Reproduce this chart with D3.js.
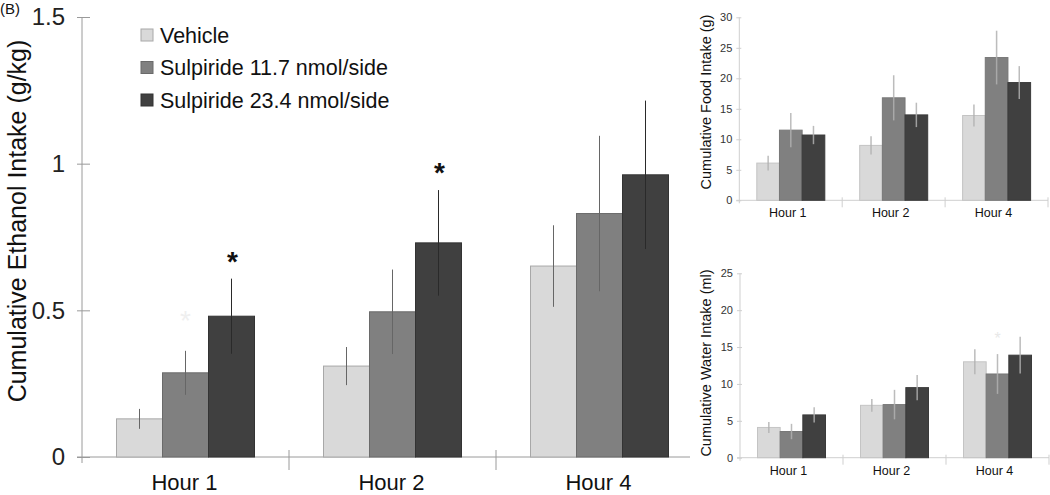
<!DOCTYPE html>
<html><head><meta charset="utf-8">
<script src="https://cdn.jsdelivr.net/npm/d3@7"></script>
<style>body{margin:0;background:#fff}svg{display:block;font-family:"Liberation Sans",Arial,sans-serif}</style>
</head><body>
<svg id="c" width="1050" height="495"></svg>
<script>
// ---- data ----
const categories = ["Hour 1", "Hour 2", "Hour 4"];
const seriesNames = ["Vehicle", "Sulpiride 11.7 nmol/side", "Sulpiride 23.4 nmol/side"];
const seriesColors = ["#d9d9d9", "#808080", "#404040"];
const seriesStroke = ["#a8a8a8", "#6a6a6a", "#333333"];

// Ethanol (g/kg): [series][category]
const ethanolMean = [[0.13, 0.31, 0.651], [0.287, 0.495, 0.83], [0.48, 0.73, 0.962]];
const ethanolErr  = [[0.034, 0.065, 0.139], [0.075, 0.144, 0.265], [0.128, 0.18, 0.253]];
const ethanolSig  = [[false, false, false], [false, false, false], [true, true, false]];
const ethanolTicks = [0, 0.5, 1, 1.5];
const ethanolTickLabels = ["0", "0.5", "1", "1.5"];

// Food (g)
const foodMean = [[6.1, 9.0, 13.9], [11.5, 16.8, 23.4], [10.7, 14.0, 19.3]];
const foodErr  = [[1.2, 1.5, 1.8], [2.8, 3.7, 4.4], [1.5, 2.0, 2.7]];
const foodTicks = [0, 5, 10, 15, 20, 25, 30];

// Water (ml)
const waterMean = [[4.1, 7.1, 13.0], [3.55, 7.2, 11.35], [5.8, 9.5, 13.9]];
const waterErr  = [[0.75, 0.86, 1.7], [1.04, 2.0, 2.7], [1.04, 1.7, 2.5]];
const waterTicks = [0, 5, 10, 15, 20, 25];

const svg = d3.select("#c");

// ---------- main panel ----------
(function(){
  const y = d3.scaleLinear().domain([0, 1.5]).range([457, 17]);
  const x = d3.scaleBand().domain(categories).range([82, 703]);
  const xs = d3.scaleBand().domain(d3.range(3)).range([34.5, 172.5]);
  const g = svg.append("g");

  g.append("line").attr("x1", 82).attr("x2", 82).attr("y1", y(1.5)).attr("y2", y(0) + 6)
    .attr("stroke", "#9a9a9a").attr("stroke-width", 1);
  g.append("line").attr("x1", 77).attr("x2", 690).attr("y1", y(0)).attr("y2", y(0))
    .attr("stroke", "#9a9a9a").attr("stroke-width", 1);

  const yAxis = d3.axisLeft(y).tickValues(ethanolTicks)
    .tickFormat((d, i) => ethanolTickLabels[i]).tickSize(5).tickPadding(12);
  const ya = g.append("g").attr("transform", "translate(82,0)").call(yAxis);
  ya.select(".domain").remove();
  ya.selectAll(".tick line").attr("stroke", "#9a9a9a").attr("x2", -5).attr("x1", 8);
  ya.selectAll(".tick text").attr("font-size", 24).attr("fill", "#222")
    .attr("font-family", "Liberation Sans, Arial, sans-serif");

  categories.slice(1).forEach(c => {
    g.append("line").attr("x1", x(c)).attr("x2", x(c)).attr("y1", y(0) - 7).attr("y2", y(0) + 13)
      .attr("stroke", "#9a9a9a");
  });
  categories.forEach(c => {
    g.append("text").attr("x", x(c) + x.bandwidth() / 2 - 1).attr("y", 490)
      .attr("text-anchor", "middle").attr("font-size", 22).attr("fill", "#111").text(c);
  });

  seriesNames.forEach((s, si) => {
    categories.forEach((c, ci) => {
      const v = ethanolMean[si][ci];
      g.append("rect").attr("x", x(c) + xs(si)).attr("width", xs.bandwidth())
        .attr("y", y(v)).attr("height", y(0) - y(v))
        .attr("fill", seriesColors[si]).attr("stroke", seriesStroke[si]).attr("stroke-width", 1);
    });
  });
  seriesNames.forEach((s, si) => {
    categories.forEach((c, ci) => {
      const v = ethanolMean[si][ci], e = ethanolErr[si][ci];
      const cx = x(c) + xs(si) + xs.bandwidth() / 2;
      g.append("line").attr("x1", cx).attr("x2", cx).attr("y1", y(v + e)).attr("y2", y(v - e))
        .attr("stroke", si === 2 ? "#2a2a2a" : "#666").attr("stroke-width", 1);
      if (ethanolSig[si][ci]) {
        g.append("text").attr("x", cx + 1).attr("y", y(v + e) - 24 + 16)
          .attr("text-anchor", "middle").attr("font-size", 28).attr("font-weight", "bold")
          .attr("fill", "#111").text("*");
      }
    });
  });
  g.append("text").attr("x", x("Hour 1") + xs(1) + xs.bandwidth() / 2).attr("y", 330)
    .attr("text-anchor", "middle").attr("font-size", 28).attr("fill", "#efefef").text("*");

  g.append("text").attr("transform", "translate(26,221) rotate(-90)")
    .attr("text-anchor", "middle").attr("font-size", 25).attr("fill", "#111")
    .text("Cumulative Ethanol Intake (g/kg)");

  const lg = g.append("g");
  seriesNames.forEach((s, si) => {
    const cy = 35 + si * 32.5;
    lg.append("rect").attr("x", 141).attr("y", cy - 6).attr("width", 12).attr("height", 12)
      .attr("fill", seriesColors[si]).attr("stroke", seriesStroke[si]);
    lg.append("text").attr("x", 160).attr("y", cy + 7.5).attr("font-size", 21.5).attr("fill", "#111").text(s);
  });

  svg.append("text").attr("x", 0).attr("y", 14).attr("font-size", 15).attr("fill", "#111").text("(B)");
})();

// ---------- inset panels ----------
function inset(opts) {
  const y = d3.scaleLinear().domain([0, opts.max]).range([opts.y0, opts.y1]);
  const x = d3.scaleBand().domain(categories).range([opts.x0, opts.x1]);
  const xs = d3.scaleBand().domain(d3.range(3)).range([17.5, 85.5]);
  const g = svg.append("g");
  const axC = "#cfcfcf";
  g.append("line").attr("x1", opts.x0).attr("x2", opts.x0).attr("y1", y(opts.max)).attr("y2", y(0) + 3)
    .attr("stroke", axC);
  g.append("line").attr("x1", opts.x0 - 3).attr("x2", opts.x1).attr("y1", y(0)).attr("y2", y(0))
    .attr("stroke", axC);
  const ya = g.append("g").attr("transform", `translate(${opts.x0},0)`)
    .call(d3.axisLeft(y).tickValues(opts.ticks).tickSize(3).tickPadding(4));
  ya.select(".domain").remove();
  ya.selectAll(".tick line").attr("stroke", axC).attr("x1", 2);
  ya.selectAll(".tick text").attr("font-size", 11).attr("fill", "#333")
    .attr("font-family", "Liberation Sans, Arial, sans-serif");
  categories.forEach((c, i) => {
    const bx = x(c) + x.bandwidth();
    g.append("line").attr("x1", bx).attr("x2", bx).attr("y1", y(0) - 3).attr("y2", y(0) + 7).attr("stroke", axC);
    g.append("text").attr("x", x(c) + x.bandwidth() / 2 - 3).attr("y", y(0) + 17)
      .attr("text-anchor", "middle").attr("font-size", 12.5).attr("fill", "#111").text(c);
  });
  const strokes = ["#c4c4c4", "#777", "#3a3a3a"];
  opts.mean.forEach((row, si) => {
    row.forEach((v, ci) => {
      g.append("rect").attr("x", x(categories[ci]) + xs(si)).attr("width", xs.bandwidth())
        .attr("y", y(v)).attr("height", y(0) - y(v))
        .attr("fill", seriesColors[si]).attr("stroke", strokes[si]);
    });
  });
  opts.mean.forEach((row, si) => {
    row.forEach((v, ci) => {
      const e = opts.err[si][ci];
      const cx = x(categories[ci]) + xs(si) + xs.bandwidth() / 2;
      g.append("line").attr("x1", cx).attr("x2", cx).attr("y1", y(v + e)).attr("y2", y(v - e))
        .attr("stroke", "#b0b0b0").attr("stroke-opacity", 0.85).attr("stroke-width", 1.5);
    });
  });
  g.append("text").attr("transform", `translate(${opts.labelX},${opts.labelY}) rotate(-90)`)
    .attr("text-anchor", "middle").attr("font-size", 14.5).attr("fill", "#111").text(opts.label);
  return {x, y, xs, g};
}

inset({max: 30, y0: 200.3, y1: 17.3, x0: 739.3, x1: 1048, ticks: foodTicks,
  mean: foodMean, err: foodErr, label: "Cumulative Food Intake (g)", labelX: 711, labelY: 102});

const w = inset({max: 25, y0: 457.7, y1: 273.3, x0: 740, x1: 1049, ticks: waterTicks,
  mean: waterMean, err: waterErr, label: "Cumulative Water Intake (ml)", labelX: 711, labelY: 363});
w.g.append("text").attr("x", w.x("Hour 4") + w.xs(1) + w.xs.bandwidth() / 2).attr("y", 344)
  .attr("text-anchor", "middle").attr("font-size", 16).attr("fill", "#e8e8e8").text("*");
</script>
</body></html>
